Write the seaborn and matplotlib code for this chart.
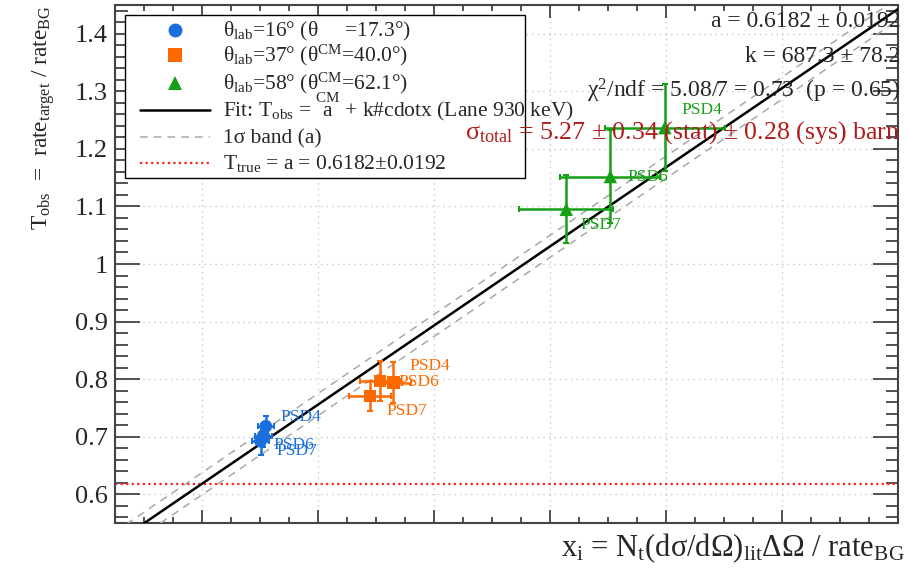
import numpy as np
import pandas as pd
import seaborn as sns
import matplotlib
matplotlib.use("Agg")
import matplotlib.pyplot as plt
from matplotlib.lines import Line2D
from matplotlib.patches import Rectangle
from matplotlib.ticker import MultipleLocator, FuncFormatter

# ---- fit results -------------------------------------------------------
a_fit, a_err = 0.6182, 0.0192
k_fit, k_err = 687.3, 78.2
chi2, ndf, p_value = 5.08, 7, 0.65
sigma_total, sigma_stat, sigma_sys = 5.27, 0.34, 0.28
lane_energy_kev = 930

# ---- measurements ------------------------------------------------------
theta_lab = [16, 37, 58]
theta_cm = [17.3, 40.0, 62.1]
detectors = ["PSD4", "PSD6", "PSD7"]

x_16 = [1.10e-4, 1.06e-4, 1.01e-4]
t_16 = [0.718, 0.702, 0.692]
xerr_16 = [1.4e-5, 1.4e-5, 1.4e-5]
terr_16 = [0.018, 0.020, 0.024]

x_37 = [3.30e-4, 3.07e-4, 2.90e-4]
t_37 = [0.794, 0.797, 0.771]
xerr_37 = [3.1e-5, 3.4e-5, 3.6e-5]
terr_37 = [0.035, 0.035, 0.026]

x_58 = [7.98e-4, 7.04e-4, 6.28e-4]
t_58 = [1.237, 1.152, 1.095]
xerr_58 = [1.03e-4, 8.6e-5, 8.1e-5]
terr_58 = [0.076, 0.081, 0.059]

y_ticks = [0.6, 0.7, 0.8, 0.9, 1.0, 1.1, 1.2, 1.3, 1.4]

# ---- styling -----------------------------------------------------------
sns.set_style("ticks")
plt.rcParams["font.family"] = ["Liberation Serif", "DejaVu Serif"]
plt.rcParams["mathtext.fontset"] = "custom"
plt.rcParams["mathtext.rm"] = "Liberation Serif"
plt.rcParams["mathtext.it"] = "Liberation Serif"
plt.rcParams["mathtext.default"] = "regular"

colors = {16: "#1a6fdc", 37: "#ff6a00", 58: "#16a016"}
markers = {16: "o", 37: "s", 58: "^"}
sizes = {16: 85, 37: 80, 58: 95}
FIT_STYLE = dict(color="black", lw=1.8)
BAND_STYLE = dict(color="#a8a8a8", lw=1.1, ls=(0, (5, 4)))
TRUE_STYLE = dict(color="#ff2020", lw=1.6, ls=(0, (1, 1.5)))
# label offsets (pixels right / down) for PSD4, PSD6, PSD7 of each angle
label_offsets = {
    16: [(15, -9), (10, 9), (16, 10)],
    37: [(16, -17), (18, 1), (16, 15)],
    58: [(17, -18), (17, 0), (14, 16)],
}

rows = []
for th, xs, ts, xe, te in [(16, x_16, t_16, xerr_16, terr_16),
                           (37, x_37, t_37, xerr_37, terr_37),
                           (58, x_58, t_58, xerr_58, terr_58)]:
    for det, xv, tv, xev, tev in zip(detectors, xs, ts, xe, te):
        rows.append(dict(theta=th, det=det, x=xv, T=tv, xerr=xev, terr=tev))
df = pd.DataFrame(rows)

W, H, DPI = 910, 576, 100
fig = plt.figure(figsize=(W / DPI, H / DPI), dpi=DPI)
AX_L, AX_R, AX_T, AX_B = 115, 898, 5, 523
ax = fig.add_axes([AX_L / W, 1 - AX_B / H, (AX_R - AX_L) / W, (AX_B - AX_T) / H])


def px_to_axes(px, py):
    return (px - AX_L) / (AX_R - AX_L), (AX_B - py) / (AX_B - AX_T)


xmin, xmax = -1.5e-4, 1.2e-3
ymin, ymax = 0.55, 1.45
ax.set_xlim(xmin, xmax)
ax.set_ylim(ymin, ymax)

# grid
ax.grid(True, which="major", ls=(0, (1, 3)), color="#c8c8c8", lw=1.0)
ax.set_axisbelow(True)

# true transmission line
ax.axhline(a_fit, zorder=2, **TRUE_STYLE)

# fit line and 1 sigma band on the intercept
xs_line = np.linspace(xmin, xmax, 200)
ax.plot(xs_line, a_fit + k_fit * xs_line, zorder=3, **FIT_STYLE)
for s in (-1, 1):
    ax.plot(xs_line, a_fit + s * a_err + k_fit * xs_line, zorder=3, **BAND_STYLE)

# error bars
for th in theta_lab:
    sub = df[df.theta == th]
    ax.errorbar(sub.x, sub["T"], xerr=sub.xerr, yerr=sub.terr, fmt="none",
                ecolor=colors[th], elinewidth=1.8, capsize=2.0, capthick=1.5,
                zorder=4)

# markers
sns.scatterplot(data=df, x="x", y="T", hue="theta", style="theta",
                palette=colors, markers=markers, size="theta", sizes=sizes,
                linewidth=0, legend=False, ax=ax, zorder=5)

# detector labels
for th in theta_lab:
    sub = df[df.theta == th].reset_index(drop=True)
    for i, r in sub.iterrows():
        dx, dy = label_offsets[th][i]
        ax.annotate(r.det, (r.x, r["T"]), xytext=(dx * 0.72, -dy * 0.72),
                    textcoords="offset points", ha="left", va="center",
                    color=colors[th], fontsize=12.5, zorder=6)

# axes
ax.xaxis.set_major_locator(MultipleLocator(2e-4))
ax.xaxis.set_minor_locator(MultipleLocator(5e-5))
ax.set_yticks(y_ticks)
ax.yaxis.set_minor_locator(MultipleLocator(0.02))
ax.yaxis.set_major_formatter(FuncFormatter(lambda v, p: f"{v:g}"))
ax.tick_params(axis="both", which="both", direction="in", top=True,
               right=True, color="#444444", width=1.3)
ax.tick_params(axis="x", which="major", length=9.5, labelbottom=False)
ax.tick_params(axis="x", which="minor", length=4.5)
ax.tick_params(axis="y", which="major", length=18, labelsize=19, pad=5)
ax.tick_params(axis="y", which="minor", length=9)
for sp in ax.spines.values():
    sp.set_color("#444444")
    sp.set_linewidth(1.5)

ax.set_xlabel(r"$x_{i}$ = $N_{t}$(dσ/dΩ)$_{lit}$ΔΩ / $rate_{BG}$",
              fontsize=22, ha="right")
ax.xaxis.set_label_coords(1.009, -0.017)
ax.set_ylabel(r"$T_{obs}$  =  $rate_{target}$ / $rate_{BG}$",
              fontsize=16.8, loc="top", labelpad=13)

# fit summary
txt_kw = dict(transform=ax.transAxes, ha="right", va="baseline",
              fontsize=17, zorder=9)
ax.text(1.003, 0.9575, f"a = {a_fit:.4f} ± {a_err:.4f}", **txt_kw)
ax.text(1.003, 0.890, f"k = {k_fit:.1f} ± {k_err:.1f}", **txt_kw)
ax.text(1.003, 0.822,
        rf"$χ^{{2}}$/ndf = {chi2:.2f}/{ndf} = {chi2 / ndf:.2f}  (p = {p_value:.2f})",
        **txt_kw)
ax.text(1.003, 0.743,
        rf"$σ_{{total}}$ = {sigma_total:.2f} ± {sigma_stat:.2f} (stat) ± "
        f"{sigma_sys:.2f} (sys) barn",
        transform=ax.transAxes, ha="right", va="baseline", fontsize=18.6,
        color="#b01c1c", zorder=9)

# ---- legend box (fixed-size frame, entries laid out row by row) --------
LEG_FS = 15.5
lx0, ly1 = px_to_axes(125, 15)
lx1, ly0 = px_to_axes(525, 178)
ax.add_patch(Rectangle((lx0, ly0), lx1 - lx0, ly1 - ly0, transform=ax.transAxes,
                       facecolor="white", edgecolor="black", lw=1.0, zorder=7.5))

entry_labels = [
    rf"$θ_{{lab}}$={theta_lab[0]}° (θ     ={theta_cm[0]:.1f}°)",
    rf"$θ_{{lab}}$={theta_lab[1]}° ($θ^{{CM}}$={theta_cm[1]:.1f}°)",
    rf"$θ_{{lab}}$={theta_lab[2]}° ($θ^{{CM}}$={theta_cm[2]:.1f}°)",
    r"Fit: $T_{obs}$ = $\overset{CM}{a}$"
    + rf" + k#cdotx (Lane {lane_energy_kev} keV)",
    "1σ band (a)",
    rf"$T_{{true}}$ = a = {a_fit:.4f}±{a_err:.4f}",
]
row_centers = [30, 55, 83, 110, 137, 163]
key_x0, key_x1, text_x = 140, 210, 223

for i, (lab, yc) in enumerate(zip(entry_labels, row_centers)):
    kx0, ky = px_to_axes(key_x0, yc)
    kx1, _ = px_to_axes(key_x1, yc)
    if i < 3:
        th = theta_lab[i]
        ax.add_line(Line2D([0.5 * (kx0 + kx1)], [ky], ls="none",
                           marker=markers[th], color=colors[th],
                           markersize=10 if th != 58 else 10.5,
                           markeredgewidth=0, transform=ax.transAxes,
                           zorder=8, clip_on=False))
    else:
        style = [FIT_STYLE, BAND_STYLE, TRUE_STYLE][i - 3]
        ax.add_line(Line2D([kx0, kx1], [ky, ky], transform=ax.transAxes,
                           zorder=8, clip_on=False, **style))
    tx, ty = px_to_axes(text_x, yc + 6)
    ax.text(tx, ty, lab, transform=ax.transAxes, ha="left", va="baseline",
            fontsize=LEG_FS, zorder=8)

fig.savefig("out.png", dpi=DPI)
